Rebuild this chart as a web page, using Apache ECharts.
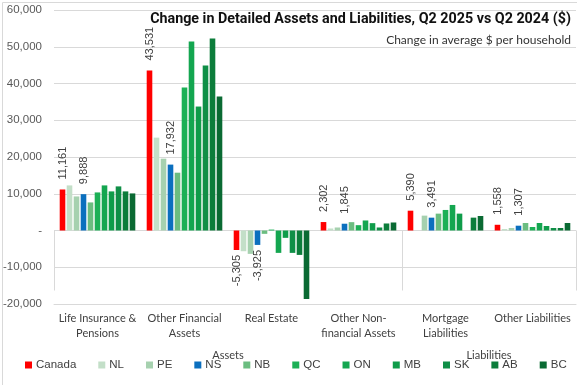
<!DOCTYPE html>
<html>
<head>
<meta charset="utf-8">
<script src="https://cdn.jsdelivr.net/npm/echarts@6/dist/echarts.min.js"></script>
<style>html,body{margin:0;padding:0;background:#fff}#c{width:577px;height:385px}</style>
</head>
<body>
<div id="c"></div>
<script>
const titleText = 'Change in Detailed Assets and Liabilities, Q2 2025 vs Q2 2024 ($)';
const subtitleText = 'Change in average $ per household';
const categories = ['Life Insurance &\nPensions', 'Other Financial\nAssets', 'Real Estate', 'Other Non-\nfinancial Assets', 'Mortgage\nLiabilities', 'Other Liabilities'];
const groupLabels = ['Assets', 'Liabilities'];
const groupSpans = [4, 2];
const regions = ['Canada', 'NL', 'PE', 'NS', 'NB', 'QC', 'ON', 'MB', 'SK', 'AB', 'BC'];
const canada = [11161, 43531, -5305, 2302, 5390, 1558];
const nl = [12270, 25270, -5640, 550, null, 400];
const pe = [9270, 19545, -6360, 820, 4045, 680];
const ns = [9888, 17932, -3925, 1845, 3491, 1307];
const nb = [7640, 15730, -910, 2270, 4590, 2045];
const qc = [10360, 38910, 250, 1450, 5590, 950];
const on = [12270, 51450, -6090, 2730, 6950, 2045];
const mb = [10640, 33730, -2000, 2000, 4590, 1230];
const sk = [12000, 44910, -6090, 820, null, 680];
const ab = [10640, 52270, -6640, 1910, 3500, 680];
const bc = [10090, 36450, -18640, 2180, 3950, 2045];
const labelled = ['Canada', 'NS'];
const yTicks = [-20000, -10000, 0, 10000, 20000, 30000, 40000, 50000, 60000];

const values = [canada, nl, pe, ns, nb, qc, on, mb, sk, ab, bc];
const colors = ['#FF0000', '#C3DFC8', '#A6D1AF', '#0B6FBE', '#6BBD80', '#1CB056', '#14A650', '#0F9C4A', '#0F8F47', '#0C7D3B', '#0A6A33'];

const fmt = v => v.toString().replace(/\B(?=(\d{3})+(?!\d))/g, ',');

const series = regions.map((name, i) => ({
  name,
  type: 'bar',
  xAxisIndex: 0,
  barWidth: 5.6,
  barGap: '25%',
  itemStyle: { color: colors[i] },
  data: values[i].map(v => {
    if (v === null) return null;
    if (!labelled.includes(name)) return v;
    const neg = v < 0;
    return {
      value: v,
      label: {
        show: true,
        position: neg ? 'bottom' : 'top',
        distance: neg ? 5 : 10,
        rotate: 90,
        align: neg ? 'right' : 'left',
        verticalAlign: 'middle',
        formatter: p => fmt(p.value),
        fontFamily: 'Liberation Sans, Arial, sans-serif',
        fontSize: 11,
        color: '#404040'
      }
    };
  })
}));

let acc = 0;
const groupBounds = [0];
const groupCenters = [];
groupSpans.forEach(s => { groupCenters.push(acc + s / 2); acc += s; groupBounds.push(acc); });

const chart = echarts.init(document.getElementById('c'), null, { renderer: 'canvas' });
chart.setOption({
  animation: false,
  backgroundColor: '#fff',
  title: [
    { text: titleText, right: 1, top: 7, textStyle: { fontFamily: 'Roboto, Liberation Sans, sans-serif', fontWeight: 'bold', fontSize: 14.3, color: '#111' } },
    { text: subtitleText, right: 1, top: 29, textStyle: { fontFamily: 'Lato, Open Sans, sans-serif', fontWeight: 'normal', fontSize: 12, color: '#333' } }
  ],
  grid: { left: 53, right: 1, top: 10, bottom: 81, containLabel: false },
  legend: {
    data: regions,
    left: 20,
    bottom: 9,
    width: 560,
    itemWidth: 7,
    itemHeight: 7,
    itemGap: 22,
    icon: 'rect',
    textStyle: { fontFamily: 'Liberation Sans, Arial, sans-serif', fontSize: 11.5, color: '#404040', padding: [0, 0, 0, -1] }
  },
  xAxis: [
    {
      type: 'category',
      data: categories,
      position: 'bottom',
      axisLine: { onZero: false, lineStyle: { color: '#D9D9D9', width: 1 } },
      axisTick: { show: false },
      axisLabel: { margin: 7, interval: 0, fontFamily: 'Lato, Open Sans, sans-serif', fontSize: 11, lineHeight: 15, color: '#404040' },
      splitLine: { show: false }
    },
    {
      type: 'value',
      min: 0,
      max: categories.length,
      position: 'bottom',
      axisLine: { show: false },
      axisTick: { show: true, customValues: groupBounds, length: 60, lineStyle: { color: '#D9D9D9' } },
      axisLabel: {
        show: true,
        customValues: groupCenters,
        margin: 46,
        formatter: v => groupLabels[groupCenters.indexOf(v)] || '',
        fontFamily: 'Lato, Open Sans, sans-serif', fontSize: 11, color: '#404040'
      },
      splitLine: { show: false }
    }
  ],
  yAxis: {
    type: 'value',
    min: yTicks[0],
    max: yTicks[yTicks.length - 1],
    interval: 10000,
    axisLine: { show: false },
    axisTick: { show: false },
    axisLabel: {
      margin: 12,
      formatter: v => v === 0 ? '-' : fmt(v),
      fontFamily: 'Liberation Sans, Arial, sans-serif',
      fontSize: 11.5,
      color: '#595959'
    },
    splitLine: { lineStyle: { color: '#D9D9D9', width: 1 } }
  },
  graphic: [
    { type: 'rect', left: 0, top: 0, shape: { x: 0.5, y: 0.5, width: 575, height: 383 }, style: { fill: 'none', stroke: '#D9D9D9', lineWidth: 1 }, silent: true, z: -1 }
  ],
  series
});
</script>
</body>
</html>
